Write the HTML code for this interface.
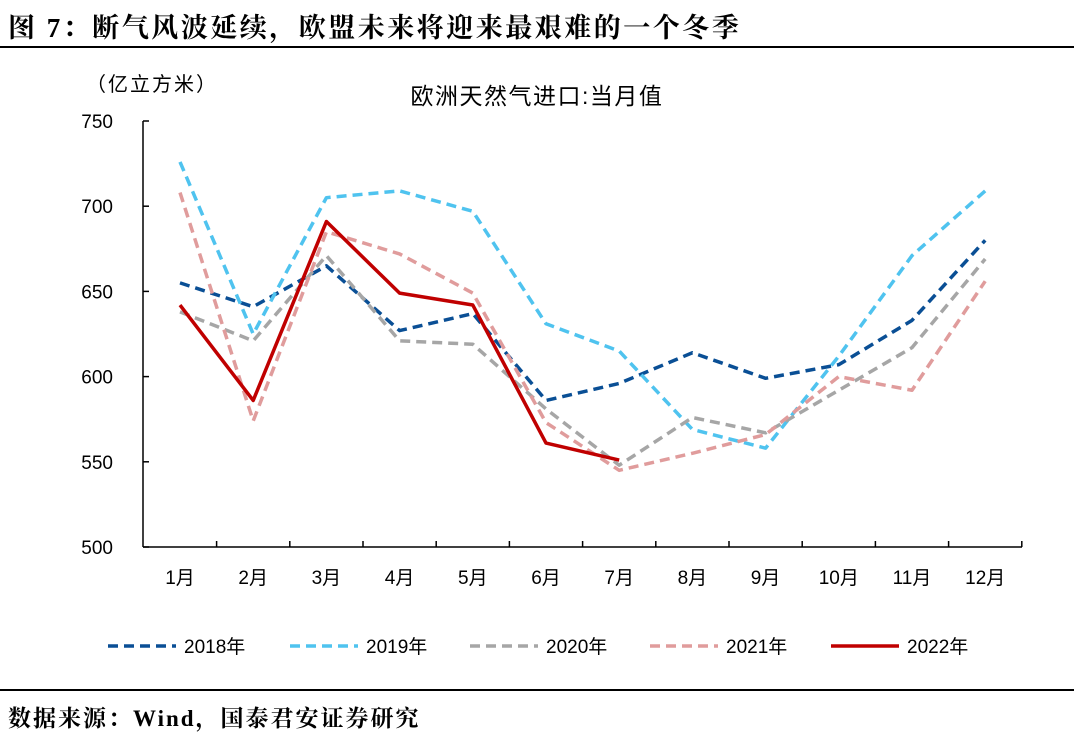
<!DOCTYPE html>
<html><head><meta charset="utf-8">
<style>
body{margin:0;background:#fff;width:1080px;height:737px;overflow:hidden;font-family:"Liberation Sans","Noto Sans CJK SC",sans-serif;}
#title{position:absolute;left:8px;top:6px;font-size:27px;letter-spacing:2.5px;font-weight:bold;color:#000;font-family:"Liberation Serif","Noto Serif CJK SC",serif;white-space:nowrap;}
#source{position:absolute;left:8px;top:700px;font-size:23px;letter-spacing:2px;font-weight:bold;font-family:"Liberation Serif","Noto Serif CJK SC",serif;white-space:nowrap;}
.rule{position:absolute;left:0;width:1074px;height:1.5px;background:#000;}
</style></head><body>
<div id="title">图 7：断气风波延续，欧盟未来将迎来最艰难的一个冬季</div>
<div class="rule" style="top:46px"></div>
<div class="rule" style="top:689px"></div>
<div id="source">数据来源：Wind，国泰君安证券研究</div>
<svg id="chart" width="1080" height="737" style="position:absolute;left:0;top:0"></svg>
<script>
const months=["1月","2月","3月","4月","5月","6月","7月","8月","9月","10月","11月","12月"];
const yTicks=[500,550,600,650,700,750];
const s2018=[655,641,665,627,637,586,596,614,599,607,633,680];
const s2019=[726,625,705,709,697,631,615,569,558,612,671,709];
const s2020=[638,621,671,621,619,581,548,576,567,592,617,669];
const s2021=[708,574,685,672,649,573,545,555,566,600,592,656];
const s2022=[642,586,691,649,642,561,551];
const seriesNames=["2018年","2019年","2020年","2021年","2022年"];
const series=[s2018,s2019,s2020,s2021,s2022];
const colors=["#0a4f95","#4fc3ef","#a6a6a6","#e09c9c","#c00000"];
const dashes=["10,6","10,6","10,6","10,6",""];
const svg=document.getElementById('chart');
const NS="http://www.w3.org/2000/svg";
const x0=180,xStep=73.2,yTop=121,yBot=547,ymin=500,ymax=750;
const X=i=>x0+i*xStep;
const Y=v=>yBot-(v-ymin)/(ymax-ymin)*(yBot-yTop);
function mk(t,a){const e=document.createElementNS(NS,t);for(const k in a)e.setAttribute(k,a[k]);svg.appendChild(e);return e;}
let e;
e=mk('line',{x1:143,y1:yTop,x2:143,y2:yBot,stroke:'#000','stroke-width':1.5});

e=mk('line',{x1:143,y1:yBot,x2:1022,y2:yBot,stroke:'#000','stroke-width':1.5});

yTicks.forEach(v=>{
 e=mk('line',{x1:143,y1:Y(v),x2:149,y2:Y(v),stroke:'#000','stroke-width':1.5});
 
 e=mk('text',{x:113,y:Y(v)+7,'text-anchor':'end','font-size':19,fill:'#000'});e.textContent=v;
 
});
months.forEach((m,i)=>{
 e=mk('line',{x1:X(i)+xStep/2,y1:yBot,x2:X(i)+xStep/2,y2:yBot-6,stroke:'#000','stroke-width':1.5});
 
 e=mk('text',{x:X(i),y:584,'text-anchor':'middle','font-size':19,fill:'#000'});e.textContent=m;
 
});
e=mk('text',{x:86,y:91,'font-size':20,'letter-spacing':2,fill:'#000'});e.textContent="（亿立方米）";

e=mk('text',{x:537,y:104,'text-anchor':'middle','font-size':23,'letter-spacing':1.5,fill:'#000'});e.textContent="欧洲天然气进口:当月值";

series.forEach((s,k)=>{
 e=mk('polyline',{points:s.map((v,i)=>X(i)+','+Y(v)).join(' '),fill:'none',stroke:colors[k],'stroke-width':3.5,'stroke-dasharray':dashes[k],'stroke-linejoin':'round'});
 
});
const legX=[108,290,470,650,831];
seriesNames.forEach((n,k)=>{
 e=mk('line',{x1:legX[k],y1:646,x2:legX[k]+68,y2:646,stroke:colors[k],'stroke-width':3.5,'stroke-dasharray':dashes[k]});
 
 e=mk('text',{x:legX[k]+76,y:653,'font-size':19,fill:'#000'});e.textContent=n;
 
});
</script>
</body></html>
